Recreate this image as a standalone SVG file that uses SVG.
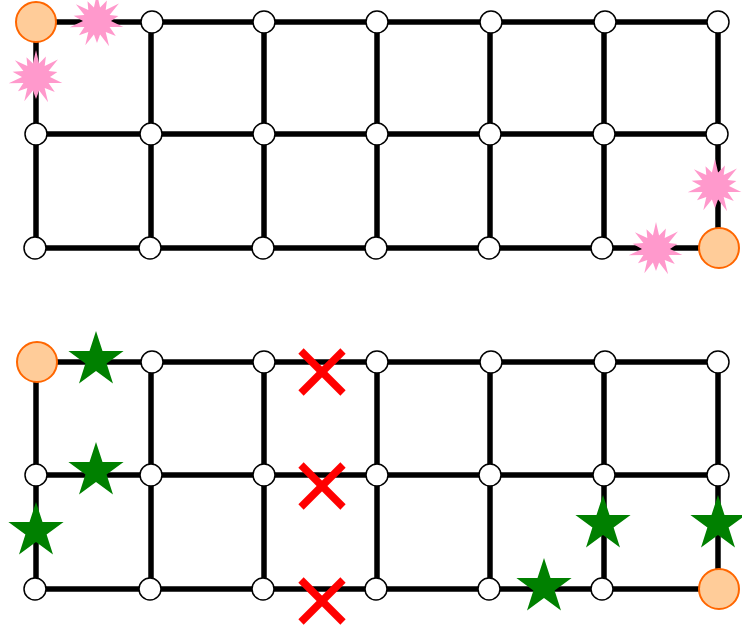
<svg xmlns="http://www.w3.org/2000/svg" width="742" height="635" viewBox="0 0 742 635">
<style>
.e{stroke:#000;stroke-width:5.5;fill:none}
.n{fill:#fff;stroke:#000;stroke-width:1.5}
.o{fill:#ffcc99;stroke:#ff6600;stroke-width:2}
.b{fill:#ff99cc}
.s{fill:#008000}
.x{stroke:#ff0000;stroke-width:7.5}
</style>
<defs>
<polygon id="burst" points="0,-27 3.1,-13.6 9.9,-20.6 8.7,-10.9 21.9,-17.5 12.6,-6.1 21.4,-4.9 14,0 26.3,6 12.6,6.1 18.8,15 8.7,10.9 12.1,25.2 3.1,13.6 0,22 -3.1,13.6 -11.7,24.3 -8.7,10.9 -18,14.3 -12.6,6.1 -27.3,6.2 -14,0 -23.4,-5.3 -12.6,-6.1 -21.1,-16.8 -8.7,-10.9 -9.5,-19.8 -3.1,-13.6"/>
<polygon id="star" points="0,-29 6.5,-9 27.6,-9 10.6,3.4 17,23.5 0,11.1 -17,23.5 -10.6,3.4 -27.6,-9 -6.5,-9"/>
<g id="xm"><line x1="-21" y1="-21" x2="21" y2="21"/><line x1="-21" y1="21" x2="21" y2="-21"/></g>
</defs>
<g id="connectors" class="e">
<line x1="36" y1="22" x2="718" y2="22"/>
<line x1="36" y1="134" x2="718" y2="134"/>
<line x1="36" y1="248" x2="718" y2="248"/>
<line x1="36" y1="22" x2="36" y2="248"/>
<line x1="151" y1="22" x2="151" y2="248"/>
<line x1="264" y1="22" x2="264" y2="248"/>
<line x1="377" y1="22" x2="377" y2="248"/>
<line x1="490" y1="22" x2="490" y2="248"/>
<line x1="604" y1="22" x2="604" y2="248"/>
<line x1="718" y1="22" x2="718" y2="248"/>
<line x1="36" y1="362" x2="718" y2="362"/>
<line x1="36" y1="475" x2="718" y2="475"/>
<line x1="36" y1="589" x2="718" y2="589"/>
<line x1="36" y1="362" x2="36" y2="589"/>
<line x1="151" y1="362" x2="151" y2="589"/>
<line x1="264" y1="362" x2="264" y2="589"/>
<line x1="377" y1="362" x2="377" y2="589"/>
<line x1="490" y1="362" x2="490" y2="589"/>
<line x1="604" y1="362" x2="604" y2="589"/>
<line x1="718" y1="362" x2="718" y2="589"/>
</g>
<g id="nodes-top">
<g id="t00"><circle class="o" cx="36" cy="22" r="20"/></g>
<g id="t01"><circle class="n" cx="152" cy="22" r="11"/></g>
<g id="t02"><circle class="n" cx="264" cy="22" r="11"/></g>
<g id="t03"><circle class="n" cx="377" cy="22" r="11"/></g>
<g id="t04"><circle class="n" cx="491" cy="22" r="11"/></g>
<g id="t05"><circle class="n" cx="605" cy="22" r="11"/></g>
<g id="t06"><circle class="n" cx="718" cy="22" r="11"/></g>
<g id="t10"><circle class="n" cx="36" cy="134" r="11"/></g>
<g id="t11"><circle class="n" cx="151" cy="134" r="11"/></g>
<g id="t12"><circle class="n" cx="264" cy="134" r="11"/></g>
<g id="t13"><circle class="n" cx="377" cy="134" r="11"/></g>
<g id="t14"><circle class="n" cx="490" cy="134" r="11"/></g>
<g id="t15"><circle class="n" cx="604" cy="134" r="11"/></g>
<g id="t16"><circle class="n" cx="717" cy="134" r="11"/></g>
<g id="t20"><circle class="n" cx="35" cy="248" r="11"/></g>
<g id="t21"><circle class="n" cx="150" cy="248" r="11"/></g>
<g id="t22"><circle class="n" cx="263" cy="248" r="11"/></g>
<g id="t23"><circle class="n" cx="376" cy="248" r="11"/></g>
<g id="t24"><circle class="n" cx="489" cy="248" r="11"/></g>
<g id="t25"><circle class="n" cx="602" cy="248" r="11"/></g>
<g id="t26"><circle class="o" cx="719" cy="248" r="20"/></g>
</g>
<g id="nodes-bottom">
<g id="b00"><circle class="o" cx="37" cy="362" r="20"/></g>
<g id="b01"><circle class="n" cx="152" cy="362" r="11"/></g>
<g id="b02"><circle class="n" cx="264" cy="362" r="11"/></g>
<g id="b03"><circle class="n" cx="377" cy="362" r="11"/></g>
<g id="b04"><circle class="n" cx="491" cy="362" r="11"/></g>
<g id="b05"><circle class="n" cx="605" cy="362" r="11"/></g>
<g id="b06"><circle class="n" cx="718" cy="362" r="11"/></g>
<g id="b10"><circle class="n" cx="36" cy="475" r="11"/></g>
<g id="b11"><circle class="n" cx="151" cy="475" r="11"/></g>
<g id="b12"><circle class="n" cx="264" cy="475" r="11"/></g>
<g id="b13"><circle class="n" cx="377" cy="475" r="11"/></g>
<g id="b14"><circle class="n" cx="490" cy="475" r="11"/></g>
<g id="b15"><circle class="n" cx="604" cy="475" r="11"/></g>
<g id="b16"><circle class="n" cx="718" cy="475" r="11"/></g>
<g id="b20"><circle class="n" cx="35" cy="589" r="11"/></g>
<g id="b21"><circle class="n" cx="150" cy="589" r="11"/></g>
<g id="b22"><circle class="n" cx="263" cy="589" r="11"/></g>
<g id="b23"><circle class="n" cx="376" cy="589" r="11"/></g>
<g id="b24"><circle class="n" cx="489" cy="589" r="11"/></g>
<g id="b25"><circle class="n" cx="602" cy="589" r="11"/></g>
<g id="b26"><circle class="o" cx="719" cy="589" r="20"/></g>
</g>
<g id="bursts" class="b">
<use href="#burst" x="97" y="21"/>
<use href="#burst" x="36" y="77"/>
<use href="#burst" x="715" y="186"/>
<use href="#burst" x="656" y="249"/>
</g>
<g id="stars" class="s">
<use href="#star" x="96" y="360"/>
<use href="#star" x="96" y="471"/>
<use href="#star" x="36" y="531"/>
<use href="#star" x="603" y="524"/>
<use href="#star" x="718" y="524"/>
<use href="#star" x="544" y="587"/>
</g>
<g id="crosses" class="x">
<use href="#xm" x="322" y="372"/>
<use href="#xm" x="322" y="486"/>
<use href="#xm" x="322" y="601"/>
</g>
</svg>
